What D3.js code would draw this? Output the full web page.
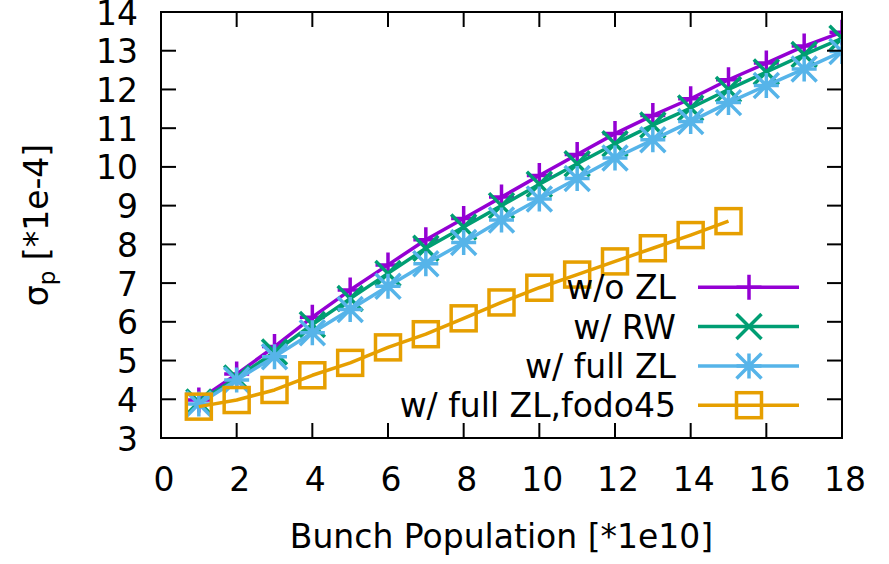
<!DOCTYPE html>
<html>
<head>
<meta charset="utf-8">
<script src="https://cdn.jsdelivr.net/npm/d3@7/dist/d3.min.js"></script>
<style>
  html, body { margin: 0; padding: 0; background: #fff; }
  svg { display: block; font-family: "DejaVu Sans", sans-serif; }
</style>
</head>
<body>
<svg id="chart" width="889" height="564"></svg>
<script>
// Bunch population (x, in units of 1e10)
const population = [1, 2, 3, 4, 5, 6, 7, 8, 9, 10, 11, 12, 13, 14, 15, 16, 17, 18];
const populationFodo = [1, 2, 3, 4, 5, 6, 7, 8, 9, 10, 11, 12, 13, 14, 15];

// Energy spread sigma_p (units of 1e-4)
const sigmaNoZL   = [3.98, 4.65, 5.36, 6.12, 6.82, 7.47, 8.12, 8.67, 9.22, 9.78, 10.32, 10.86, 11.33, 11.76, 12.25, 12.68, 13.12, 13.48];
const sigmaRW     = [3.93, 4.55, 5.22, 5.93, 6.60, 7.25, 7.90, 8.45, 9.00, 9.55, 10.08, 10.60, 11.08, 11.52, 12.00, 12.45, 12.90, 13.32];
const sigmaFullZL = [3.88, 4.50, 5.10, 5.72, 6.32, 6.92, 7.50, 8.05, 8.63, 9.17, 9.70, 10.23, 10.70, 11.17, 11.66, 12.10, 12.53, 12.98];
const sigmaFodo45 = [3.81, 3.98, 4.24, 4.62, 4.94, 5.34, 5.68, 6.09, 6.50, 6.88, 7.22, 7.56, 7.90, 8.24, 8.60];

const seriesNames = ["w/o ZL", "w/ RW", "w/ full ZL", "w/ full ZL,fodo45"];
const seriesColors = ["#9400d3", "#009e73", "#56b4e9", "#e69f00"];
const seriesMarkers = ["plus", "cross", "star", "square"];

const xTicks = [0, 2, 4, 6, 8, 10, 12, 14, 16, 18];
const yTicks = [3, 4, 5, 6, 7, 8, 9, 10, 11, 12, 13, 14];

const series = [
  { name: seriesNames[0], color: seriesColors[0], marker: seriesMarkers[0], xs: population, ys: sigmaNoZL },
  { name: seriesNames[1], color: seriesColors[1], marker: seriesMarkers[1], xs: population, ys: sigmaRW },
  { name: seriesNames[2], color: seriesColors[2], marker: seriesMarkers[2], xs: population, ys: sigmaFullZL },
  { name: seriesNames[3], color: seriesColors[3], marker: seriesMarkers[3], xs: populationFodo, ys: sigmaFodo45 }
];

const svg = d3.select("#chart");
const plot = { left: 161, right: 842, top: 12, bottom: 438 };

const x = d3.scaleLinear().domain([0, 18]).range([plot.left, plot.right]);
const y = d3.scaleLinear().domain([3, 14]).range([plot.bottom, plot.top]);

const fontSize = 33;
const tickLen = 15;
const lw = 3.5;

// Clip series to the plot frame
svg.append("defs").append("clipPath").attr("id", "clip")
  .append("rect")
  .attr("x", plot.left).attr("y", plot.top)
  .attr("width", plot.right - plot.left).attr("height", plot.bottom - plot.top);

// Marker glyph drawing
function drawMarker(g, type, cx, cy, color) {
  const s = g.append("g").attr("transform", `translate(${cx},${cy})`)
    .attr("stroke", color).attr("stroke-width", lw).attr("fill", "none");
  if (type === "plus") {
    const r = 12.5;
    s.append("path").attr("d", `M${-r},0H${r}M0,${-r}V${r}`);
  } else if (type === "cross") {
    const r = 12.5;
    s.append("path").attr("d", `M${-r},${-r}L${r},${r}M${-r},${r}L${r},${-r}`);
  } else if (type === "star") {
    const r = 12.5;
    s.append("path").attr("d", `M${-r},0H${r}M0,${-r}V${r}M${-r},${-r}L${r},${r}M${-r},${r}L${r},${-r}`);
  } else if (type === "square") {
    const r = 12.5;
    s.append("rect").attr("x", -r).attr("y", -r).attr("width", 2 * r).attr("height", 2 * r);
  }
}

// Series lines and markers
const dataLayer = svg.append("g").attr("clip-path", "url(#clip)");
const line = d3.line().x(d => x(d[0])).y(d => y(d[1]));
series.forEach(s => {
  const pts = s.xs.map((v, i) => [v, s.ys[i]]);
  const g = dataLayer.append("g");
  g.append("path").datum(pts).attr("d", line)
    .attr("fill", "none").attr("stroke", s.color).attr("stroke-width", lw)
    .attr("stroke-linejoin", "round");
  pts.forEach(p => drawMarker(g, s.marker, x(p[0]), y(p[1]), s.color));
});

// Frame and inward ticks on all four sides
const axisG = svg.append("g").attr("stroke", "#000").attr("stroke-width", 2).attr("fill", "none");
axisG.append("rect")
  .attr("x", plot.left).attr("y", plot.top)
  .attr("width", plot.right - plot.left).attr("height", plot.bottom - plot.top);
xTicks.forEach(t => {
  const px = x(t);
  axisG.append("line").attr("x1", px).attr("x2", px).attr("y1", plot.bottom).attr("y2", plot.bottom - tickLen);
  axisG.append("line").attr("x1", px).attr("x2", px).attr("y1", plot.top).attr("y2", plot.top + tickLen);
});
yTicks.forEach(t => {
  const py = y(t);
  axisG.append("line").attr("x1", plot.left).attr("x2", plot.left + tickLen).attr("y1", py).attr("y2", py);
  axisG.append("line").attr("x1", plot.right).attr("x2", plot.right - tickLen).attr("y1", py).attr("y2", py);
});

// Tick labels
const labels = svg.append("g").attr("font-size", fontSize).attr("fill", "#000");
xTicks.forEach(t => {
  labels.append("text").attr("x", x(t) + 3).attr("y", 491)
    .attr("text-anchor", "middle").text(d3.format("d")(t));
});
yTicks.forEach(t => {
  labels.append("text").attr("x", 138).attr("y", y(t) + 12.5)
    .attr("text-anchor", "end").text(d3.format("d")(t));
});

// Axis titles
labels.append("text").attr("x", (plot.left + plot.right) / 2).attr("y", 548)
  .attr("text-anchor", "middle").text("Bunch Population [*1e10]");

const yTitle = labels.append("text")
  .attr("transform", `translate(48,${(plot.top + plot.bottom) / 2}) rotate(-90)`)
  .attr("text-anchor", "middle");
yTitle.append("tspan").text("σ");
yTitle.append("tspan").attr("font-size", 23).attr("dy", 7).text("p");
yTitle.append("tspan").attr("dy", -7).text(" [*1e-4]");

// Legend
const legend = svg.append("g");
series.forEach((s, i) => {
  const ly = 287.3 + i * 39.3;
  legend.append("text").attr("x", 676).attr("y", ly + 12)
    .attr("font-size", fontSize).attr("text-anchor", "end").text(s.name);
  legend.append("line").attr("x1", 698).attr("x2", 799).attr("y1", ly).attr("y2", ly)
    .attr("stroke", s.color).attr("stroke-width", lw);
  drawMarker(legend, s.marker, 749, ly, s.color);
});
</script>
</body>
</html>
